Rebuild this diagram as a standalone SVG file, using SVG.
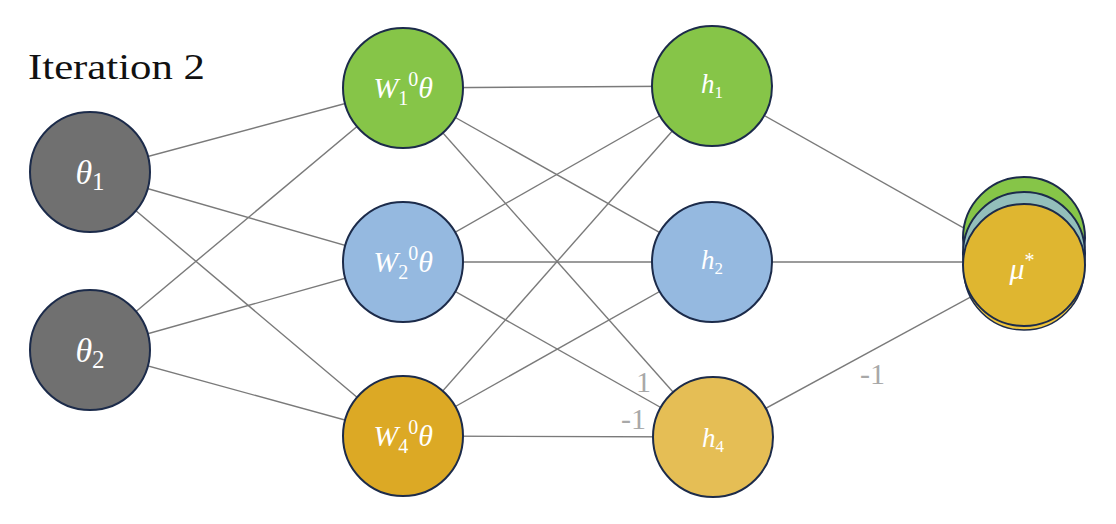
<svg xmlns="http://www.w3.org/2000/svg" width="1116" height="524" viewBox="0 0 1116 524">
<style>
.n{stroke:#1c2b4a;stroke-width:2}
.e{stroke:#7a7a7a;stroke-width:1.4;fill:none}
.t{font-family:"Liberation Serif",serif;font-style:italic;fill:#fff;text-anchor:middle}
.lbl{font-family:"Liberation Serif",serif;fill:#a8a8a8;font-size:30px}
</style>
<rect width="1116" height="524" fill="#fff"/>
<text x="28" y="79" font-family="Liberation Serif,serif" font-size="35" fill="#111" textLength="177" lengthAdjust="spacingAndGlyphs">Iteration 2</text>
<g id="connectors">
<line class="e" x1="90" y1="172" x2="403" y2="88"/>
<line class="e" x1="90" y1="172" x2="403" y2="262"/>
<line class="e" x1="90" y1="172" x2="403" y2="436"/>
<line class="e" x1="90" y1="350" x2="403" y2="88"/>
<line class="e" x1="90" y1="350" x2="403" y2="262"/>
<line class="e" x1="90" y1="350" x2="403" y2="436"/>
<line class="e" x1="403" y1="88" x2="712" y2="86"/>
<line class="e" x1="403" y1="88" x2="712" y2="262"/>
<line class="e" x1="403" y1="88" x2="713" y2="437"/>
<line class="e" x1="403" y1="262" x2="712" y2="86"/>
<line class="e" x1="403" y1="262" x2="712" y2="262"/>
<line class="e" x1="403" y1="262" x2="713" y2="437"/>
<line class="e" x1="403" y1="436" x2="712" y2="86"/>
<line class="e" x1="403" y1="436" x2="712" y2="262"/>
<line class="e" x1="403" y1="436" x2="713" y2="437"/>
<line class="e" x1="712" y1="86" x2="1024" y2="262"/>
<line class="e" x1="712" y1="262" x2="1024" y2="262"/>
<line class="e" x1="713" y1="437" x2="1024" y2="268"/>
</g>
<g id="theta1"><circle class="n" cx="90" cy="172" r="60" fill="#707070"/><text class="t" x="90" y="184" font-size="34">θ<tspan font-style="normal" font-size="25" dy="6">1</tspan></text></g>
<g id="theta2"><circle class="n" cx="90" cy="350" r="60" fill="#707070"/><text class="t" x="90" y="362" font-size="34">θ<tspan font-style="normal" font-size="25" dy="6">2</tspan></text></g>
<g id="w1"><circle class="n" cx="403" cy="88" r="60" fill="#86c548"/><text class="t" x="403" y="98" font-size="30">W<tspan font-style="normal" font-size="20" dy="7">1</tspan><tspan font-style="normal" font-size="20" dy="-19">0</tspan><tspan dy="12">θ</tspan></text></g>
<g id="w2"><circle class="n" cx="403" cy="262" r="60" fill="#95b9e0"/><text class="t" x="403" y="272" font-size="30">W<tspan font-style="normal" font-size="20" dy="7">2</tspan><tspan font-style="normal" font-size="20" dy="-19">0</tspan><tspan dy="12">θ</tspan></text></g>
<g id="w4"><circle class="n" cx="403" cy="436" r="60" fill="#dca925"/><text class="t" x="403" y="446" font-size="30">W<tspan font-style="normal" font-size="20" dy="7">4</tspan><tspan font-style="normal" font-size="20" dy="-19">0</tspan><tspan dy="12">θ</tspan></text></g>
<g id="h1"><circle class="n" cx="712" cy="86" r="60" fill="#86c548"/><text class="t" x="712" y="93" font-size="27">h<tspan font-style="normal" font-size="17" dy="5">1</tspan></text></g>
<g id="h2"><circle class="n" cx="712" cy="262" r="60" fill="#95b9e0"/><text class="t" x="712" y="269" font-size="27">h<tspan font-style="normal" font-size="17" dy="5">2</tspan></text></g>
<g id="h4"><circle class="n" cx="713" cy="437" r="60" fill="#e5be55"/><text class="t" x="713" y="447" font-size="27">h<tspan font-style="normal" font-size="17" dy="5">4</tspan></text></g>
<g id="mu">
<circle class="n" cx="1024" cy="238" r="61" fill="#86c548"/>
<circle class="n" cx="1024" cy="253" r="61" fill="#93bfbb"/>
<circle cx="1024" cy="270" r="60" fill="#f2c840" stroke="#1c2b4a" stroke-width="1.5"/>
<circle cx="1024" cy="268" r="60" fill="#e8bf3a"/>
<circle class="n" cx="1024" cy="265" r="61" fill="#dfb630"/>
<text class="t" x="1022" y="279" font-size="30">μ<tspan font-style="normal" font-size="20" dy="-12">*</tspan></text>
</g>
<text class="lbl" x="636" y="392">1</text>
<text class="lbl" x="621" y="429">-1</text>
<text class="lbl" x="860" y="384">-1</text>
</svg>
